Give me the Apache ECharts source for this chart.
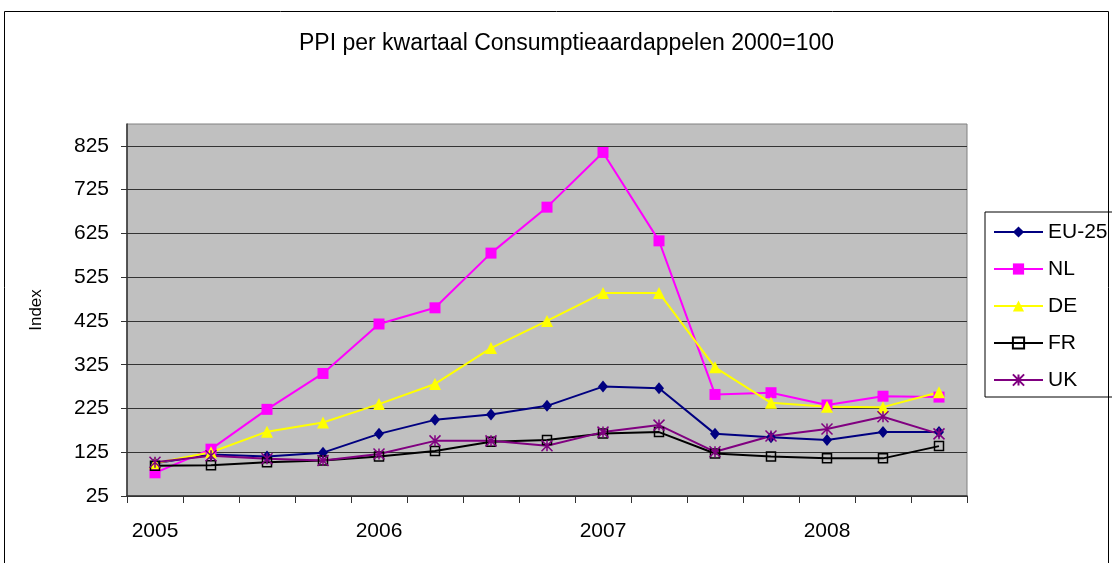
<!DOCTYPE html>
<html>
<head>
<meta charset="utf-8">
<script src="https://cdn.jsdelivr.net/npm/echarts@6/dist/echarts.min.js"></script>
<style>
  html, body { margin: 0; padding: 0; background: #fff; }
  #main { width: 1112px; height: 563px; }
</style>
</head>
<body>
<div id="main"></div>
<script>
    // quarters 2005 Q1 .. 2008 Q3
    var quarters = ['2005-1','2005-2','2005-3','2005-4','2006-1','2006-2','2006-3','2006-4',
                    '2007-1','2007-2','2007-3','2007-4','2008-1','2008-2','2008-3'];
    var yTicks = [25, 125, 225, 325, 425, 525, 625, 725, 825];

    var eu25 = [100, 120, 115, 124, 167, 199, 211, 231, 275, 271, 167, 159, 153, 171, 171];
    var nl   = [78, 132, 223, 305, 418, 455, 580, 685, 810, 608, 257, 261, 233, 253, 251];
    var de   = [100, 125, 172, 193, 235, 281, 363, 425, 489, 489, 319, 238, 229, 228, 262];
    var fr   = [94, 95, 102, 106, 115, 128, 149, 153, 168, 171, 122, 115, 111, 111, 139];
    var uk   = [102, 117, 110, 106, 121, 151, 151, 140, 171, 187, 126, 162, 178, 206, 167];

    var font = 'Liberation Sans, Arial, sans-serif';
    var myChart = echarts.init(document.getElementById('main'));

    function line(name, data, color, symbol, size, extra) {
        var s = {
            name: name,
            type: 'line',
            data: data,
            symbol: symbol,
            symbolSize: size,
            lineStyle: { color: color, width: 2 },
            itemStyle: { color: color },
            emphasis: { disabled: true },
            animation: false
        };
        if (extra) s.itemStyle = extra;
        return s;
    }

    myChart.setOption({
        title: {
            text: 'PPI per kwartaal Consumptieaardappelen 2000=100',
            left: 299,
            top: 32,
            padding: 0,
            textStyle: { fontFamily: font, fontSize: 23, fontWeight: 'normal', color: '#000' }
        },
        legend: {
            orient: 'vertical',
            left: 985,
            top: 212,
            padding: [8, 60, 5, 8],
            borderColor: '#000',
            borderWidth: 1,
            itemWidth: 49,
            itemHeight: 14,
            itemGap: 13,
            textStyle: { fontFamily: font, fontSize: 21, color: '#000', lineHeight: 24 },
            data: ['EU-25', 'NL', 'DE', 'FR', 'UK']
        },
        grid: {
            left: 127, right: 145, top: 124, bottom: 67,
            show: true,
            backgroundColor: '#C0C0C0',
            borderColor: '#808080',
            borderWidth: 1
        },
        xAxis: {
            type: 'category',
            data: quarters,
            boundaryGap: true,
            axisLine: { lineStyle: { color: '#333', width: 1.5 } },
            axisTick: { show: true, interval: 0, length: 7, lineStyle: { color: '#333' } },
            axisLabel: {
                interval: 3,
                margin: 25,
                fontFamily: font, fontSize: 21, color: '#000',
                formatter: function (v) { return v.slice(0, 4); }
            },
            splitLine: { show: false }
        },
        yAxis: {
            type: 'value',
            min: 25,
            max: 875,
            interval: 100,
            name: 'Index',
            nameLocation: 'middle',
            nameRotate: 90,
            nameGap: 82,
            nameTextStyle: { fontFamily: font, fontSize: 17, color: '#000' },
            axisLine: { show: true, lineStyle: { color: '#333', width: 1.5 } },
            axisTick: { show: true, length: 6, customValues: yTicks, lineStyle: { color: '#333' } },
            axisLabel: {
                margin: 18,
                fontFamily: font, fontSize: 21, color: '#000',
                formatter: function (v) { return v > 825 ? '' : String(v); }
            },
            splitLine: {
                show: true,
                lineStyle: {
                    color: ['#333','#333','#333','#333','#333','#333','#333','#333','#333','#808080'],
                    width: 1
                }
            }
        },
        graphic: [{
            type: 'rect',
            shape: { x: 4.5, y: 11.5, width: 1104, height: 600 },
            style: { fill: 'none', stroke: '#000', lineWidth: 1 },
            silent: true,
            z: -1
        }],
        series: [
            line('EU-25', eu25, '#000080', 'diamond', [10, 12]),
            line('NL', nl, '#FF00FF', 'rect', 11),
            line('DE', de, '#FFFF00', 'triangle', 12),
            line('FR', fr, '#000000', 'rect', 9,
                 { color: 'rgba(0,0,0,0)', borderColor: '#000000', borderWidth: 1.5 }),
            line('UK', uk, '#800080', 'path://M0,0L10,10M10,0L0,10M5,0L5,10', 11,
                 { color: '#800080', borderColor: '#800080', borderWidth: 1.5 })
        ]
    });
</script>
</body>
</html>
